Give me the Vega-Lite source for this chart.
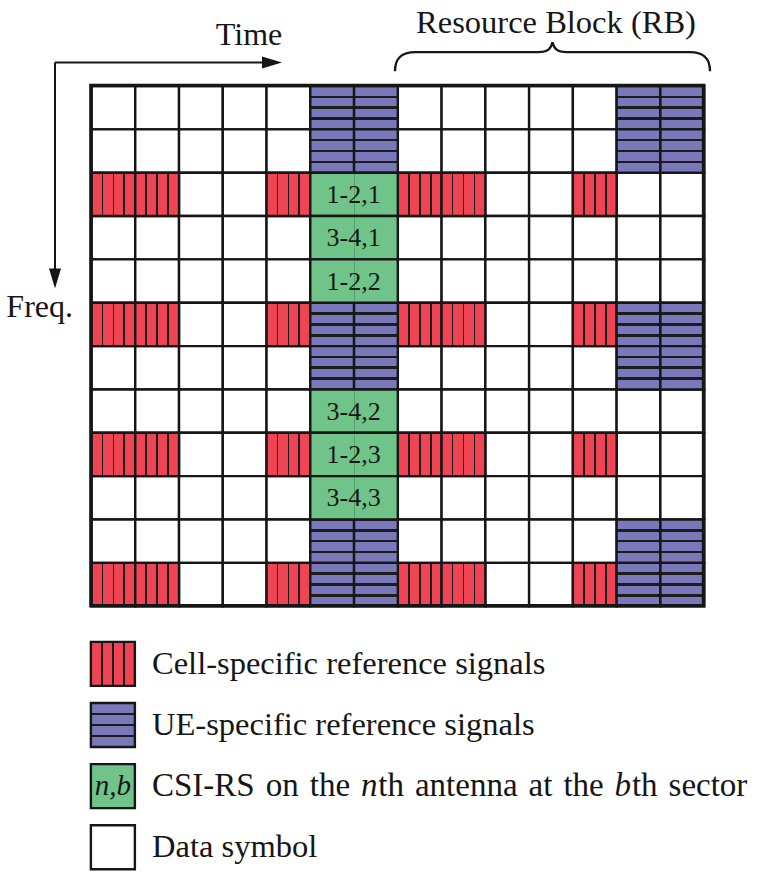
{
  "$schema": "https://vega.github.io/schema/vega-lite/v6.json",
  "width": 765,
  "height": 874,
  "autosize": {"type": "fit", "contains": "padding"},
  "padding": 0,
  "background": "white",
  "config": {"view": {"stroke": null}, "axis": {"disable": true}, "font": "Liberation Serif"},
  "datasets": {
    "grid": [
      {"t":0,"f":0,"type":"data"},{"t":1,"f":0,"type":"data"},{"t":2,"f":0,"type":"data"},{"t":3,"f":0,"type":"data"},{"t":4,"f":0,"type":"data"},{"t":5,"f":0,"type":"ue"},{"t":6,"f":0,"type":"ue"},{"t":7,"f":0,"type":"data"},{"t":8,"f":0,"type":"data"},{"t":9,"f":0,"type":"data"},{"t":10,"f":0,"type":"data"},{"t":11,"f":0,"type":"data"},{"t":12,"f":0,"type":"ue"},{"t":13,"f":0,"type":"ue"},
      {"t":0,"f":1,"type":"data"},{"t":1,"f":1,"type":"data"},{"t":2,"f":1,"type":"data"},{"t":3,"f":1,"type":"data"},{"t":4,"f":1,"type":"data"},{"t":5,"f":1,"type":"ue"},{"t":6,"f":1,"type":"ue"},{"t":7,"f":1,"type":"data"},{"t":8,"f":1,"type":"data"},{"t":9,"f":1,"type":"data"},{"t":10,"f":1,"type":"data"},{"t":11,"f":1,"type":"data"},{"t":12,"f":1,"type":"ue"},{"t":13,"f":1,"type":"ue"},
      {"t":0,"f":2,"type":"crs"},{"t":1,"f":2,"type":"crs"},{"t":2,"f":2,"type":"data"},{"t":3,"f":2,"type":"data"},{"t":4,"f":2,"type":"crs"},{"t":5,"f":2,"type":"csi","label":"1-2,1"},{"t":7,"f":2,"type":"crs"},{"t":8,"f":2,"type":"crs"},{"t":9,"f":2,"type":"data"},{"t":10,"f":2,"type":"data"},{"t":11,"f":2,"type":"crs"},{"t":12,"f":2,"type":"data"},{"t":13,"f":2,"type":"data"},
      {"t":0,"f":3,"type":"data"},{"t":1,"f":3,"type":"data"},{"t":2,"f":3,"type":"data"},{"t":3,"f":3,"type":"data"},{"t":4,"f":3,"type":"data"},{"t":5,"f":3,"type":"csi","label":"3-4,1"},{"t":7,"f":3,"type":"data"},{"t":8,"f":3,"type":"data"},{"t":9,"f":3,"type":"data"},{"t":10,"f":3,"type":"data"},{"t":11,"f":3,"type":"data"},{"t":12,"f":3,"type":"data"},{"t":13,"f":3,"type":"data"},
      {"t":0,"f":4,"type":"data"},{"t":1,"f":4,"type":"data"},{"t":2,"f":4,"type":"data"},{"t":3,"f":4,"type":"data"},{"t":4,"f":4,"type":"data"},{"t":5,"f":4,"type":"csi","label":"1-2,2"},{"t":7,"f":4,"type":"data"},{"t":8,"f":4,"type":"data"},{"t":9,"f":4,"type":"data"},{"t":10,"f":4,"type":"data"},{"t":11,"f":4,"type":"data"},{"t":12,"f":4,"type":"data"},{"t":13,"f":4,"type":"data"},
      {"t":0,"f":5,"type":"crs"},{"t":1,"f":5,"type":"crs"},{"t":2,"f":5,"type":"data"},{"t":3,"f":5,"type":"data"},{"t":4,"f":5,"type":"crs"},{"t":5,"f":5,"type":"ue"},{"t":6,"f":5,"type":"ue"},{"t":7,"f":5,"type":"crs"},{"t":8,"f":5,"type":"crs"},{"t":9,"f":5,"type":"data"},{"t":10,"f":5,"type":"data"},{"t":11,"f":5,"type":"crs"},{"t":12,"f":5,"type":"ue"},{"t":13,"f":5,"type":"ue"},
      {"t":0,"f":6,"type":"data"},{"t":1,"f":6,"type":"data"},{"t":2,"f":6,"type":"data"},{"t":3,"f":6,"type":"data"},{"t":4,"f":6,"type":"data"},{"t":5,"f":6,"type":"ue"},{"t":6,"f":6,"type":"ue"},{"t":7,"f":6,"type":"data"},{"t":8,"f":6,"type":"data"},{"t":9,"f":6,"type":"data"},{"t":10,"f":6,"type":"data"},{"t":11,"f":6,"type":"data"},{"t":12,"f":6,"type":"ue"},{"t":13,"f":6,"type":"ue"},
      {"t":0,"f":7,"type":"data"},{"t":1,"f":7,"type":"data"},{"t":2,"f":7,"type":"data"},{"t":3,"f":7,"type":"data"},{"t":4,"f":7,"type":"data"},{"t":5,"f":7,"type":"csi","label":"3-4,2"},{"t":7,"f":7,"type":"data"},{"t":8,"f":7,"type":"data"},{"t":9,"f":7,"type":"data"},{"t":10,"f":7,"type":"data"},{"t":11,"f":7,"type":"data"},{"t":12,"f":7,"type":"data"},{"t":13,"f":7,"type":"data"},
      {"t":0,"f":8,"type":"crs"},{"t":1,"f":8,"type":"crs"},{"t":2,"f":8,"type":"data"},{"t":3,"f":8,"type":"data"},{"t":4,"f":8,"type":"crs"},{"t":5,"f":8,"type":"csi","label":"1-2,3"},{"t":7,"f":8,"type":"crs"},{"t":8,"f":8,"type":"crs"},{"t":9,"f":8,"type":"data"},{"t":10,"f":8,"type":"data"},{"t":11,"f":8,"type":"crs"},{"t":12,"f":8,"type":"data"},{"t":13,"f":8,"type":"data"},
      {"t":0,"f":9,"type":"data"},{"t":1,"f":9,"type":"data"},{"t":2,"f":9,"type":"data"},{"t":3,"f":9,"type":"data"},{"t":4,"f":9,"type":"data"},{"t":5,"f":9,"type":"csi","label":"3-4,3"},{"t":7,"f":9,"type":"data"},{"t":8,"f":9,"type":"data"},{"t":9,"f":9,"type":"data"},{"t":10,"f":9,"type":"data"},{"t":11,"f":9,"type":"data"},{"t":12,"f":9,"type":"data"},{"t":13,"f":9,"type":"data"},
      {"t":0,"f":10,"type":"data"},{"t":1,"f":10,"type":"data"},{"t":2,"f":10,"type":"data"},{"t":3,"f":10,"type":"data"},{"t":4,"f":10,"type":"data"},{"t":5,"f":10,"type":"ue"},{"t":6,"f":10,"type":"ue"},{"t":7,"f":10,"type":"data"},{"t":8,"f":10,"type":"data"},{"t":9,"f":10,"type":"data"},{"t":10,"f":10,"type":"data"},{"t":11,"f":10,"type":"data"},{"t":12,"f":10,"type":"ue"},{"t":13,"f":10,"type":"ue"},
      {"t":0,"f":11,"type":"crs"},{"t":1,"f":11,"type":"crs"},{"t":2,"f":11,"type":"data"},{"t":3,"f":11,"type":"data"},{"t":4,"f":11,"type":"crs"},{"t":5,"f":11,"type":"ue"},{"t":6,"f":11,"type":"ue"},{"t":7,"f":11,"type":"crs"},{"t":8,"f":11,"type":"crs"},{"t":9,"f":11,"type":"data"},{"t":10,"f":11,"type":"data"},{"t":11,"f":11,"type":"crs"},{"t":12,"f":11,"type":"ue"},{"t":13,"f":11,"type":"ue"}
    ],
    "legend": [
      {"k":0,"type":"crs","label":"Cell-specific reference signals"},
      {"k":1,"type":"ue","label":"UE-specific reference signals"},
      {"k":2,"type":"csi","label":"CSI-RS on the nth antenna at the bth sector"},
      {"k":3,"type":"data","label":"Data symbol"}
    ]
  },
  "resolve": {"scale": {"y": "independent"}},
  "layer": [
    {
      "data": {"name": "grid"},
      "layer": [
        {
          "transform": [{"filter": "datum.type === 'data'"}],
          "mark": {"type": "rect", "fill": "#ffffff", "stroke": "#161616", "strokeWidth": 2.4, "binSpacing": 0},
          "encoding": {
            "x": {"field": "t", "type": "quantitative", "bin": {"step": 1, "extent": [0, 14], "nice": false}, "scale": {"domain": [-2.0795, 15.402], "nice": false, "zero": false}, "axis": null},
            "y": {"field": "f", "type": "quantitative", "bin": {"step": 1, "extent": [0, 12], "nice": false}, "scale": {"domain": [-1.9726, 18.0046], "reverse": true, "nice": false, "zero": false}, "axis": null}
          }
        },
        {
          "transform": [{"filter": "datum.type === 'crs'"}],
          "mark": {"type": "rect", "stroke": "#161616", "strokeWidth": 2.4, "binSpacing": 0,
            "fill": {"gradient": "linear", "x1": 0, "y1": 0, "x2": 1, "y2": 0, "stops": [
              {"offset": 0, "color": "#ef4453"}, {"offset": 0.23, "color": "#ef4453"},
              {"offset": 0.23, "color": "#1c1c1c"}, {"offset": 0.27, "color": "#1c1c1c"},
              {"offset": 0.27, "color": "#ef4453"}, {"offset": 0.48, "color": "#ef4453"},
              {"offset": 0.48, "color": "#1c1c1c"}, {"offset": 0.52, "color": "#1c1c1c"},
              {"offset": 0.52, "color": "#ef4453"}, {"offset": 0.73, "color": "#ef4453"},
              {"offset": 0.73, "color": "#1c1c1c"}, {"offset": 0.77, "color": "#1c1c1c"},
              {"offset": 0.77, "color": "#ef4453"}, {"offset": 1, "color": "#ef4453"}]}},
          "encoding": {
            "x": {"field": "t", "type": "quantitative", "bin": {"step": 1, "extent": [0, 14], "nice": false}, "scale": {"domain": [-2.0795, 15.402], "nice": false, "zero": false}, "axis": null},
            "y": {"field": "f", "type": "quantitative", "bin": {"step": 1, "extent": [0, 12], "nice": false}, "scale": {"domain": [-1.9726, 18.0046], "reverse": true, "nice": false, "zero": false}, "axis": null}
          }
        },
        {
          "transform": [{"filter": "datum.type === 'ue'"}],
          "mark": {"type": "rect", "stroke": "#161616", "strokeWidth": 2.4, "binSpacing": 0,
            "fill": {"gradient": "linear", "x1": 0, "y1": 0, "x2": 0, "y2": 1, "stops": [
              {"offset": 0, "color": "#7878ba"}, {"offset": 0.22, "color": "#7878ba"},
              {"offset": 0.22, "color": "#1c1c1c"}, {"offset": 0.28, "color": "#1c1c1c"},
              {"offset": 0.28, "color": "#7878ba"}, {"offset": 0.47, "color": "#7878ba"},
              {"offset": 0.47, "color": "#1c1c1c"}, {"offset": 0.53, "color": "#1c1c1c"},
              {"offset": 0.53, "color": "#7878ba"}, {"offset": 0.72, "color": "#7878ba"},
              {"offset": 0.72, "color": "#1c1c1c"}, {"offset": 0.78, "color": "#1c1c1c"},
              {"offset": 0.78, "color": "#7878ba"}, {"offset": 1, "color": "#7878ba"}]}},
          "encoding": {
            "x": {"field": "t", "type": "quantitative", "bin": {"step": 1, "extent": [0, 14], "nice": false}, "scale": {"domain": [-2.0795, 15.402], "nice": false, "zero": false}, "axis": null},
            "y": {"field": "f", "type": "quantitative", "bin": {"step": 1, "extent": [0, 12], "nice": false}, "scale": {"domain": [-1.9726, 18.0046], "reverse": true, "nice": false, "zero": false}, "axis": null}
          }
        },
        {
          "transform": [{"filter": "datum.type === 'csi'"}],
          "mark": {"type": "rect", "stroke": "#161616", "strokeWidth": 2.4, "binSpacing": 0,
            "fill": {"gradient": "linear", "x1": 0, "y1": 0, "x2": 1, "y2": 0, "stops": [
              {"offset": 0, "color": "#70c48a"}, {"offset": 0.494, "color": "#70c48a"},
              {"offset": 0.494, "color": "#56a06c"}, {"offset": 0.506, "color": "#56a06c"},
              {"offset": 0.506, "color": "#70c48a"}, {"offset": 1, "color": "#70c48a"}]}},
          "encoding": {
            "x": {"field": "t", "type": "quantitative", "bin": {"step": 2, "extent": [5, 7], "nice": false}, "scale": {"domain": [-2.0795, 15.402], "nice": false, "zero": false}, "axis": null},
            "y": {"field": "f", "type": "quantitative", "bin": {"step": 1, "extent": [0, 12], "nice": false}, "scale": {"domain": [-1.9726, 18.0046], "reverse": true, "nice": false, "zero": false}, "axis": null}
          }
        },
        {
          "transform": [{"filter": "datum.type === 'csi'"}],
          "mark": {"type": "text", "font": "Liberation Serif", "fontSize": 26, "color": "#161616", "align": "center", "baseline": "middle", "dy": 1},
          "encoding": {
            "x": {"field": "t", "type": "quantitative", "bin": {"step": 2, "extent": [5, 7], "nice": false}, "scale": {"domain": [-2.0795, 15.402], "nice": false, "zero": false}, "axis": null},
            "y": {"field": "f", "type": "quantitative", "bin": {"step": 1, "extent": [0, 12], "nice": false}, "scale": {"domain": [-1.9726, 18.0046], "reverse": true, "nice": false, "zero": false}, "axis": null},
            "text": {"field": "label"}
          }
        },
        {
          "data": {"values": [{}]},
          "layer": [
            {
              "mark": {"type": "rect", "fill": "transparent", "stroke": "#161616", "strokeWidth": 3.6},
              "encoding": {"x": {"datum": 0}, "x2": {"datum": 14}, "y": {"datum": 0}, "y2": {"datum": 12}}
            },
            {
              "mark": {"type": "rule", "color": "#161616", "strokeWidth": 2},
              "encoding": {"x": {"datum": -0.8227}, "x2": {"datum": 4.136}, "y": {"datum": -0.5326}}
            },
            {
              "mark": {"type": "rule", "color": "#161616", "strokeWidth": 2},
              "encoding": {"x": {"datum": -0.8227}, "y": {"datum": -0.5326}, "y2": {"datum": 4.45}}
            },
            {
              "mark": {"type": "point", "shape": "M-1,-0.6L1,0L-1,0.6Z", "size": 400, "filled": true, "fill": "#161616", "stroke": null, "opacity": 1},
              "encoding": {"x": {"datum": 4.136}, "y": {"datum": -0.5326}}
            },
            {
              "mark": {"type": "point", "shape": "M-0.6,-1L0.6,-1L0,1Z", "size": 400, "filled": true, "fill": "#161616", "stroke": null, "opacity": 1},
              "encoding": {"x": {"datum": -0.8227}, "y": {"datum": 4.45}}
            },
            {
              "mark": {"type": "point", "shape": "M-1,0.092C-1,0.02 -0.97,-0.029 -0.87,-0.029L-0.09,-0.029C-0.03,-0.029 -0.01,-0.05 0,-0.092C0.01,-0.05 0.03,-0.029 0.09,-0.029L0.87,-0.029C0.97,-0.029 1,0.02 1,0.092", "size": 99225, "filled": false, "stroke": "#161616", "strokeWidth": 2.4, "opacity": 1},
              "encoding": {"x": {"datum": 10.546}, "y": {"datum": -0.665}}
            },
            {
              "mark": {"type": "text", "text": "Time", "font": "Liberation Serif", "fontSize": 32, "color": "#161616", "align": "center", "baseline": "alphabetic"},
              "encoding": {"x": {"datum": 3.611}, "y": {"datum": -0.944}}
            },
            {
              "mark": {"type": "text", "text": "Resource Block (RB)", "font": "Liberation Serif", "fontSize": 32.5, "color": "#161616", "align": "center", "baseline": "alphabetic"},
              "encoding": {"x": {"datum": 10.626}, "y": {"datum": -1.218}}
            },
            {
              "mark": {"type": "text", "text": "Freq.", "font": "Liberation Serif", "fontSize": 32, "color": "#161616", "align": "right", "baseline": "alphabetic"},
              "encoding": {"x": {"datum": -0.411}, "y": {"datum": 5.342}}
            }
          ]
        }
      ]
    },
    {
      "data": {"name": "legend"},
      "layer": [
        {
          "transform": [{"filter": "datum.type === 'crs'"}],
          "mark": {"type": "point", "shape": "square", "size": 1936, "filled": true, "opacity": 1, "stroke": "#161616", "strokeWidth": 2.4,
            "fill": {"gradient": "linear", "x1": 0, "y1": 0, "x2": 1, "y2": 0, "stops": [
              {"offset": 0, "color": "#ef4453"}, {"offset": 0.23, "color": "#ef4453"},
              {"offset": 0.23, "color": "#1c1c1c"}, {"offset": 0.27, "color": "#1c1c1c"},
              {"offset": 0.27, "color": "#ef4453"}, {"offset": 0.48, "color": "#ef4453"},
              {"offset": 0.48, "color": "#1c1c1c"}, {"offset": 0.52, "color": "#1c1c1c"},
              {"offset": 0.52, "color": "#ef4453"}, {"offset": 0.73, "color": "#ef4453"},
              {"offset": 0.73, "color": "#1c1c1c"}, {"offset": 0.77, "color": "#1c1c1c"},
              {"offset": 0.77, "color": "#ef4453"}, {"offset": 1, "color": "#ef4453"}]}},
          "encoding": {
            "x": {"datum": 0.5},
            "y": {"field": "k", "type": "quantitative", "scale": {"domain": [-10.859, 3.306], "reverse": true, "nice": false, "zero": false}, "axis": null}
          }
        },
        {
          "transform": [{"filter": "datum.type === 'ue'"}],
          "mark": {"type": "point", "shape": "square", "size": 1936, "filled": true, "opacity": 1, "stroke": "#161616", "strokeWidth": 2.4,
            "fill": {"gradient": "linear", "x1": 0, "y1": 0, "x2": 0, "y2": 1, "stops": [
              {"offset": 0, "color": "#7878ba"}, {"offset": 0.22, "color": "#7878ba"},
              {"offset": 0.22, "color": "#1c1c1c"}, {"offset": 0.28, "color": "#1c1c1c"},
              {"offset": 0.28, "color": "#7878ba"}, {"offset": 0.47, "color": "#7878ba"},
              {"offset": 0.47, "color": "#1c1c1c"}, {"offset": 0.53, "color": "#1c1c1c"},
              {"offset": 0.53, "color": "#7878ba"}, {"offset": 0.72, "color": "#7878ba"},
              {"offset": 0.72, "color": "#1c1c1c"}, {"offset": 0.78, "color": "#1c1c1c"},
              {"offset": 0.78, "color": "#7878ba"}, {"offset": 1, "color": "#7878ba"}]}},
          "encoding": {
            "x": {"datum": 0.5},
            "y": {"field": "k", "type": "quantitative", "scale": {"domain": [-10.859, 3.306], "reverse": true, "nice": false, "zero": false}, "axis": null}
          }
        },
        {
          "transform": [{"filter": "datum.type === 'csi'"}],
          "mark": {"type": "point", "shape": "square", "size": 1936, "filled": true, "opacity": 1, "stroke": "#161616", "strokeWidth": 2.4, "fill": "#70c48a"},
          "encoding": {
            "x": {"datum": 0.5},
            "y": {"field": "k", "type": "quantitative", "scale": {"domain": [-10.859, 3.306], "reverse": true, "nice": false, "zero": false}, "axis": null}
          }
        },
        {
          "transform": [{"filter": "datum.type === 'data'"}],
          "mark": {"type": "point", "shape": "square", "size": 1936, "filled": true, "opacity": 1, "stroke": "#161616", "strokeWidth": 2.4, "fill": "#ffffff"},
          "encoding": {
            "x": {"datum": 0.5},
            "y": {"field": "k", "type": "quantitative", "scale": {"domain": [-10.859, 3.306], "reverse": true, "nice": false, "zero": false}, "axis": null}
          }
        },
        {
          "transform": [{"filter": "datum.type === 'csi'"}],
          "mark": {"type": "text", "text": "n,b", "font": "Liberation Serif", "fontStyle": "italic", "fontSize": 29, "color": "#161616", "align": "center", "baseline": "middle"},
          "encoding": {
            "x": {"datum": 0.5},
            "y": {"field": "k", "type": "quantitative", "scale": {"domain": [-10.859, 3.306], "reverse": true, "nice": false, "zero": false}, "axis": null}
          }
        },
        {
          "transform": [{"filter": "datum.type !== 'csi'"}],
          "mark": {"type": "text", "font": "Liberation Serif", "fontSize": 32.5, "color": "#161616", "align": "left", "baseline": "middle"},
          "encoding": {
            "x": {"datum": 1.394},
            "y": {"field": "k", "type": "quantitative", "scale": {"domain": [-10.859, 3.306], "reverse": true, "nice": false, "zero": false}, "axis": null},
            "text": {"field": "label"}
          }
        },
        {
          "transform": [{"filter": "datum.type === 'csi'"}],
          "layer": [
            {
              "mark": {"type": "text", "text": "CSI-RS\u2004on\u2004the", "font": "Liberation Serif", "fontSize": 33, "color": "#161616", "align": "left", "baseline": "middle"},
              "encoding": {"x": {"datum": 1.394}, "y": {"field": "k", "type": "quantitative", "scale": {"domain": [-10.859, 3.306], "reverse": true, "nice": false, "zero": false}, "axis": null}}
            },
            {
              "mark": {"type": "text", "text": "n", "font": "Liberation Serif", "fontStyle": "italic", "fontSize": 33, "color": "#161616", "align": "left", "baseline": "middle"},
              "encoding": {"x": {"datum": 6.17}, "y": {"field": "k", "type": "quantitative", "scale": {"domain": [-10.859, 3.306], "reverse": true, "nice": false, "zero": false}, "axis": null}}
            },
            {
              "mark": {"type": "text", "text": "th\u2004antenna\u2004at\u2004the", "font": "Liberation Serif", "fontSize": 33, "color": "#161616", "align": "left", "baseline": "middle"},
              "encoding": {"x": {"datum": 6.565}, "y": {"field": "k", "type": "quantitative", "scale": {"domain": [-10.859, 3.306], "reverse": true, "nice": false, "zero": false}, "axis": null}}
            },
            {
              "mark": {"type": "text", "text": "b", "font": "Liberation Serif", "fontStyle": "italic", "fontSize": 33, "color": "#161616", "align": "left", "baseline": "middle"},
              "encoding": {"x": {"datum": 11.96}, "y": {"field": "k", "type": "quantitative", "scale": {"domain": [-10.859, 3.306], "reverse": true, "nice": false, "zero": false}, "axis": null}}
            },
            {
              "mark": {"type": "text", "text": "th\u2004sector", "font": "Liberation Serif", "fontSize": 33, "color": "#161616", "align": "left", "baseline": "middle"},
              "encoding": {"x": {"datum": 12.36}, "y": {"field": "k", "type": "quantitative", "scale": {"domain": [-10.859, 3.306], "reverse": true, "nice": false, "zero": false}, "axis": null}}
            }
          ]
        }
      ]
    }
  ]
}
